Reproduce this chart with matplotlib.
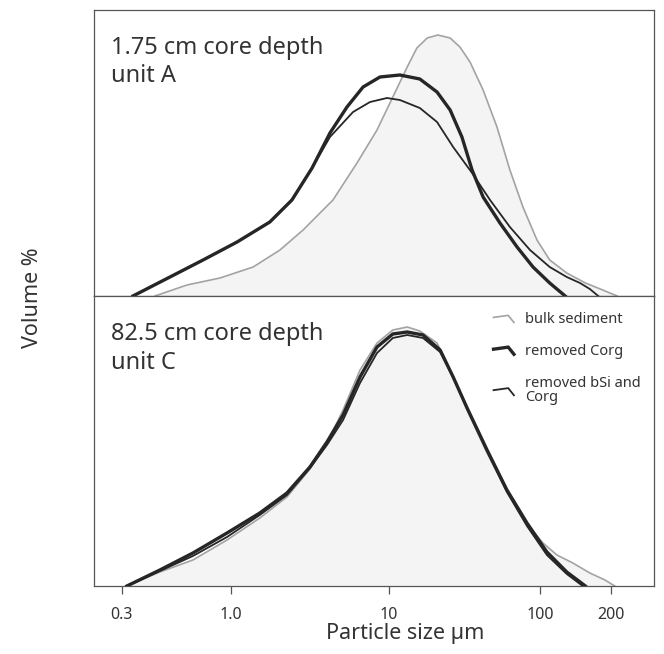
import numpy as np
import matplotlib.pyplot as plt
from matplotlib.lines import Line2D
from matplotlib.legend_handler import HandlerBase
from matplotlib.ticker import FixedLocator, FixedFormatter, NullLocator

plt.rcParams['font.family'] = ['Noto Sans', 'DejaVu Sans']

# particle size (um) and volume (%) for the 1.75 cm sample (unit A)
top_bulk_size = [0.434, 0.618, 0.890, 1.39, 2.05, 2.87, 3.67, 4.43, 6.28, 8.40, 10.6, 13.2,
                 15.3, 17.9, 21.1, 25.4, 29.5, 34.4, 42.0, 51.9, 63.2, 77.1, 95.5, 110,
                 130, 156, 185, 213]
top_bulk_vol = [0.0, 0.275, 0.45, 0.725, 1.15, 1.65, 2.075, 2.4, 3.325, 4.15, 4.975, 5.725,
                6.2, 6.45, 6.525, 6.45, 6.225, 5.85, 5.15, 4.225, 3.15, 2.225, 1.4, 0.9,
                0.575, 0.325, 0.15, 0.0]

top_corg_size = [0.340, 0.512, 0.738, 1.10, 1.77, 2.44, 3.27, 4.24, 5.43, 6.86, 8.77, 11.8,
                 16.0, 20.8, 25.4, 30.4, 35.5, 42.0, 54.3, 70.5, 89.9, 110, 128]
top_corg_vol = [0.0, 0.475, 0.9, 1.35, 1.85, 2.4, 3.2, 4.075, 4.725, 5.225, 5.475, 5.525,
                5.425, 5.1, 4.65, 3.975, 3.15, 2.475, 1.825, 1.225, 0.725, 0.325, 0.0]

top_bsi_size = [0.340, 0.512, 0.738, 1.10, 1.77, 2.44, 3.27, 4.24, 5.93, 7.59, 9.71, 11.8,
                16.0, 20.8, 26.6, 35.5, 46.7, 63.2, 85.9, 110, 130, 148, 163, 177]
top_bsi_vol = [0.0, 0.475, 0.9, 1.35, 1.85, 2.4, 3.2, 3.975, 4.6, 4.85, 4.95, 4.9,
               4.7, 4.35, 3.725, 3.075, 2.4, 1.725, 1.15, 0.725, 0.475, 0.325, 0.175, 0.0]

# 82.5 cm sample (unit C)
bot_bulk_size = [0.318, 0.458, 0.660, 0.962, 1.53, 2.27, 3.17, 4.06, 5.13, 6.56, 8.40, 10.6,
                 13.2, 16.0, 20.8, 26.6, 32.9, 44.6, 60.4, 82.0, 103, 118, 138, 163,
                 189, 208]
bot_bulk_vol = [0.0, 0.35, 0.65, 1.15, 1.7, 2.225, 2.925, 3.575, 4.4, 5.4, 6.075, 6.4,
                6.475, 6.375, 6.075, 5.225, 4.4, 3.325, 2.35, 1.55, 1.075, 0.775, 0.575, 0.325,
                0.15, 0.0]

bot_corg_size = [0.318, 0.458, 0.660, 0.962, 1.53, 2.27, 3.17, 4.06, 5.13, 6.56, 8.40, 10.6,
                 13.2, 16.8, 21.8, 26.6, 32.9, 44.6, 60.4, 82.0, 107, 130, 156]
bot_corg_vol = [0.0, 0.4, 0.825, 1.325, 1.825, 2.325, 2.975, 3.6, 4.275, 5.225, 5.975, 6.3,
                6.35, 6.275, 5.9, 5.225, 4.45, 3.4, 2.4, 1.575, 0.85, 0.35, 0.0]

bot_bsi_size = [0.318, 0.458, 0.660, 0.962, 1.53, 2.27, 3.17, 4.06, 5.13, 6.56, 8.40, 10.6,
                13.2, 16.8, 21.8, 26.6, 32.9, 44.6, 60.4, 82.0, 107, 130, 152]
bot_bsi_vol = [0.0, 0.375, 0.75, 1.225, 1.775, 2.275, 2.95, 3.525, 4.15, 5.075, 5.825, 6.2,
               6.275, 6.2, 5.85, 5.225, 4.45, 3.375, 2.35, 1.5, 0.775, 0.3, 0.0]

tick_vals = [0.3, 1.0, 10, 100, 200]
tick_labels = ['0.3', '1.0', '10', '100', '200']
# where each tick sits along the axis (fraction of width) -- the axis is stretched at the ends
tick_frac = [0.0493, 0.2438, 0.5268, 0.7964, 0.9227]

series_labels = ['bulk sediment', 'removed Corg', 'removed bSi and\nCorg']
panel_titles = ['1.75 cm core depth\nunit A', '82.5 cm core depth\nunit C']

# piecewise log scale through the tick positions, extended linearly past the ends
_lt = np.log10(tick_vals)
_sl = (tick_frac[1] - tick_frac[0]) / (_lt[1] - _lt[0])
_sr = (tick_frac[-1] - tick_frac[-2]) / (_lt[-1] - _lt[-2])
knot_log = np.concatenate([[-6], _lt, [6]])
knot_pos = np.concatenate([[tick_frac[0] - _sl * (_lt[0] + 6)], tick_frac,
                           [tick_frac[-1] + _sr * (6 - _lt[-1])]])


def fwd(x):
    x = np.asarray(x, dtype=float)
    lx = np.log10(np.clip(x, 1e-6, None))
    return np.interp(lx, knot_log, knot_pos)


def inv(p):
    p = np.asarray(p, dtype=float)
    return 10 ** np.interp(p, knot_pos, knot_log)


class BentLine(HandlerBase):
    # small kinked stroke used as the legend key
    def create_artists(self, legend, orig_handle, xdescent, ydescent, width, height,
                       fontsize, trans):
        x0 = -xdescent
        y0 = -ydescent
        xs = [x0, x0 + 0.72 * width, x0 + width]
        ys = [y0 + 0.55 * height, y0 + 0.75 * height, y0 + 0.05 * height]
        ln = Line2D(xs, ys, color=orig_handle.get_color(),
                    lw=orig_handle.get_linewidth(), transform=trans,
                    solid_joinstyle='miter')
        return [ln]


grey = '#a3a3a3'
fill = '#f4f4f4'
dark = '#262626'
text_c = '#333333'
frame_c = '#555555'

fig = plt.figure(figsize=(6.64, 6.54), dpi=100)
ax_top = fig.add_axes([94 / 664, 1 - 296 / 654, 560 / 664, 286 / 654])
ax_bot = fig.add_axes([94 / 664, 1 - 586 / 654, 560 / 664, 290 / 654])

panels = [
    (ax_top, top_bulk_size, top_bulk_vol, top_corg_size, top_corg_vol, top_bsi_size, top_bsi_vol, 286 / 40),
    (ax_bot, bot_bulk_size, bot_bulk_vol, bot_corg_size, bot_corg_vol, bot_bsi_size, bot_bsi_vol, 290 / 40),
]

for i, (ax, bs, bv, cs, cv, ss, sv, ytop) in enumerate(panels):
    ax.set_xscale('function', functions=(fwd, inv))
    ax.fill_between(bs, bv, 0, color=fill, lw=0, zorder=1)
    h1, = ax.plot(bs, bv, color=grey, lw=1.2, zorder=2, label=series_labels[0],
                  solid_joinstyle='round')
    h3, = ax.plot(ss, sv, color=dark, lw=1.3, zorder=3, label=series_labels[2],
                  solid_joinstyle='round')
    h2, = ax.plot(cs, cv, color=dark, lw=2.4, zorder=4, label=series_labels[1],
                  solid_joinstyle='round')
    ax.set_xlim(inv(0.0), inv(1.0))
    ax.set_ylim(0, ytop)
    ax.yaxis.set_major_locator(NullLocator())
    ax.yaxis.set_minor_locator(NullLocator())
    ax.xaxis.set_minor_locator(NullLocator())
    for sp in ax.spines.values():
        sp.set_color(frame_c)
        sp.set_linewidth(0.9)
    ax.text(0.03, 0.91, panel_titles[i], transform=ax.transAxes, ha='left', va='top',
            fontsize=17, color=text_c, linespacing=1.25)
    if i == 0:
        ax.xaxis.set_major_locator(NullLocator())
    else:
        ax.xaxis.set_major_locator(FixedLocator(tick_vals))
        ax.xaxis.set_major_formatter(FixedFormatter(tick_labels))
        ax.tick_params(axis='x', direction='out', length=6, width=0.9, color=frame_c,
                       pad=9, labelsize=11.5, labelcolor=text_c)
        leg = ax.legend([h1, h2, h3], series_labels, loc='upper left',
                        bbox_to_anchor=(0.69, 0.99), frameon=False,
                        handler_map={Line2D: BentLine()}, handlelength=1.4,
                        handletextpad=0.75, labelspacing=1.15, fontsize=10.5)
        for t in leg.get_texts():
            t.set_color(text_c)
            t.set_linespacing(0.95)

fig.text(405 / 664, 1 - 633 / 654, 'Particle size µm', ha='center', va='center',
         fontsize=15.5, color=text_c)
fig.text(33 / 664, 1 - 298 / 654, 'Volume %', ha='center', va='center', rotation=90,
         fontsize=15.5, color=text_c)

fig.savefig('out.png', dpi=100, facecolor='white')
